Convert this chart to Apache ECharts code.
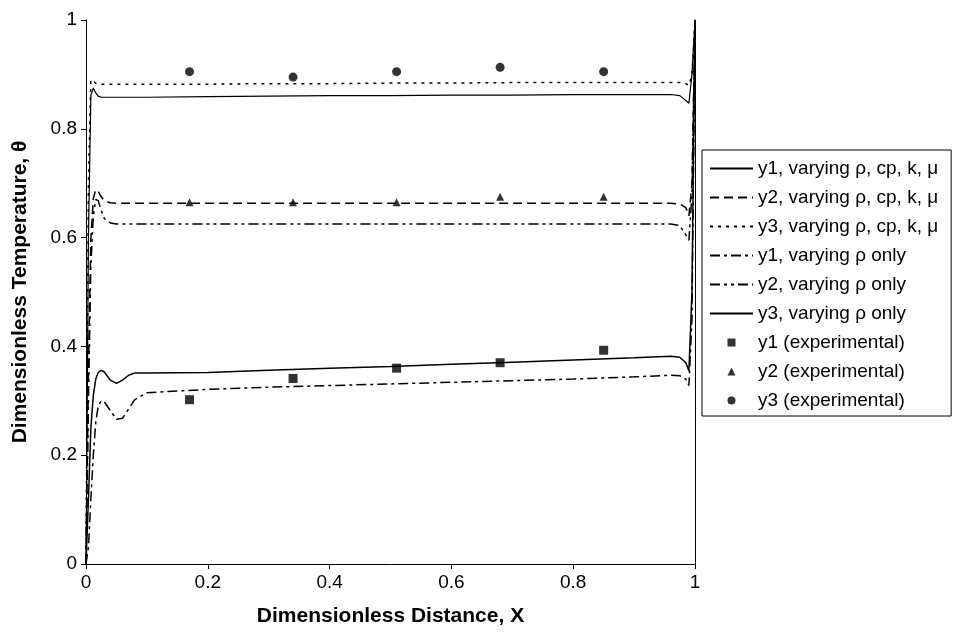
<!DOCTYPE html>
<html>
<head>
<meta charset="utf-8">
<script src="https://cdn.jsdelivr.net/npm/echarts@6/dist/echarts.min.js"></script>
<style>
  html, body { margin: 0; padding: 0; background: #fff; }
  #chart { width: 953px; height: 632px; }
</style>
</head>
<body>
<div id="chart"></div>
<script>
// shared x positions for the model curves
const xGrid = [0, 0.004, 0.008, 0.012, 0.016, 0.02, 0.025, 0.03, 0.04, 0.05, 0.06, 0.07, 0.08,
  0.1, 0.2, 0.3, 0.4, 0.5, 0.6, 0.7, 0.8, 0.9, 0.96, 0.975, 0.985, 0.99, 0.995, 1];

const y1All = [0, 0.12, 0.25, 0.31, 0.34, 0.352, 0.356, 0.353, 0.338, 0.332, 0.338, 0.347, 0.351,
  0.351, 0.352, 0.356, 0.36, 0.363, 0.367, 0.371, 0.375, 0.379, 0.382, 0.38, 0.37, 0.355, 0.5, 1];
const y2All = [0, 0.35, 0.6, 0.672, 0.688, 0.685, 0.675, 0.668, 0.664, 0.663, 0.663, 0.663, 0.663,
  0.663, 0.663, 0.663, 0.663, 0.663, 0.663, 0.663, 0.663, 0.663, 0.663, 0.662, 0.655, 0.64, 0.7, 1];
const y3All = [0, 0.7, 0.89, 0.888, 0.884, 0.882, 0.882, 0.882, 0.882, 0.882, 0.882, 0.882, 0.882,
  0.882, 0.882, 0.883, 0.883, 0.884, 0.884, 0.885, 0.885, 0.885, 0.885, 0.885, 0.883, 0.88, 0.9, 1];
const y1Rho = [0, 0.03, 0.12, 0.2, 0.26, 0.29, 0.3, 0.298, 0.282, 0.266, 0.268, 0.285, 0.302,
  0.315, 0.321, 0.325, 0.328, 0.331, 0.334, 0.337, 0.34, 0.344, 0.347, 0.346, 0.34, 0.328, 0.45, 1];
const y2Rho = [0, 0.3, 0.55, 0.64, 0.67, 0.668, 0.65, 0.635, 0.627, 0.625, 0.625, 0.625, 0.625,
  0.625, 0.625, 0.625, 0.625, 0.625, 0.625, 0.625, 0.625, 0.625, 0.625, 0.622, 0.605, 0.595, 0.68, 1];
const y3Rho = [0, 0.6, 0.862, 0.875, 0.866, 0.86, 0.858, 0.858, 0.858, 0.858, 0.858, 0.858, 0.858,
  0.858, 0.859, 0.86, 0.861, 0.861, 0.862, 0.862, 0.863, 0.863, 0.863, 0.861, 0.852, 0.847, 0.9, 1];

// experimental points
const xExp = [0.17, 0.34, 0.51, 0.68, 0.85];
const y1Exp = [0.302, 0.341, 0.36, 0.37, 0.393];
const y2Exp = [0.665, 0.665, 0.665, 0.675, 0.675];
const y3Exp = [0.905, 0.895, 0.905, 0.913, 0.905];

const xTicks = [0, 0.2, 0.4, 0.6, 0.8, 1];
const yTicks = [0, 0.2, 0.4, 0.6, 0.8, 1];

const FONT = 'Liberation Sans, Arial, sans-serif';

const pairs = (xs, ys) => xs.map((x, i) => [x, ys[i]]);

const lineSeries = (name, ys, type, width) => ({
  name,
  type: 'line',
  data: pairs(xGrid, ys),
  symbol: 'none',
  lineStyle: { color: '#000', width: width || 1.4, type: type },
  itemStyle: { color: '#000' },
  z: 3
});

const pointSeries = (name, ys, symbol, size) => ({
  name,
  type: 'scatter',
  data: pairs(xExp, ys),
  symbol,
  symbolSize: size,
  itemStyle: { color: '#000' },
  z: 4
});

// legend entries: lines get no centre dot, points keep a small square shape
const noDot = { color: 'rgba(0,0,0,0)', borderColor: 'rgba(0,0,0,0)', borderWidth: 0 };
const legendItems = [
  { name: 'y1, varying ρ, cp, k, μ', itemStyle: noDot },
  { name: 'y2, varying ρ, cp, k, μ', itemStyle: noDot },
  { name: 'y3, varying ρ, cp, k, μ', itemStyle: noDot },
  { name: 'y1, varying ρ only', itemStyle: noDot },
  { name: 'y2, varying ρ only', itemStyle: noDot },
  { name: 'y3, varying ρ only', itemStyle: noDot },
  { name: 'y1 (experimental)', icon: 'path://M0,0L10,0L10,10L0,10Z' },
  { name: 'y2 (experimental)', icon: 'path://M5,0L10,10L0,10Z' },
  { name: 'y3 (experimental)', icon: 'circle' }
];

const chart = echarts.init(document.getElementById('chart'));

const option = {
  animation: false,
  backgroundColor: '#fff',
  textStyle: { fontFamily: FONT, color: '#000' },
  grid: { left: 86, right: 258, top: 20, bottom: 67 },
  legend: {
    orient: 'vertical',
    left: 702,
    top: 150,
    padding: [9, 13, 6, 7],
    borderColor: '#000',
    borderWidth: 1,
    itemWidth: 43,
    itemHeight: 8,
    itemGap: 10,
    symbolKeepAspect: true,
    textStyle: { fontFamily: FONT, fontSize: 19, color: '#000' },
    data: legendItems
  },
  xAxis: {
    type: 'value',
    min: xTicks[0],
    max: xTicks[xTicks.length - 1],
    interval: 0.2,
    name: 'Dimensionless Distance, X',
    nameLocation: 'middle',
    nameGap: 42,
    nameTextStyle: { fontFamily: FONT, fontSize: 21, fontWeight: 'bold', color: '#000' },
    axisLine: { show: true, onZero: false, lineStyle: { color: '#000', width: 1 } },
    axisTick: { show: true, inside: false, length: 5, lineStyle: { color: '#000' } },
    axisLabel: { fontFamily: FONT, fontSize: 19, color: '#000', margin: 9 },
    splitLine: { show: false }
  },
  yAxis: [
    {
      type: 'value',
      min: yTicks[0],
      max: yTicks[yTicks.length - 1],
      interval: 0.2,
      name: 'Dimensionless Temperature, θ',
      nameLocation: 'middle',
      nameGap: 55,
      nameTextStyle: { fontFamily: FONT, fontSize: 21, fontWeight: 'bold', color: '#000' },
      axisLine: { show: true, onZero: false, lineStyle: { color: '#000', width: 1 } },
      axisTick: { show: true, inside: false, length: 5, lineStyle: { color: '#000' } },
      axisLabel: { fontFamily: FONT, fontSize: 19, color: '#000', margin: 9 },
      splitLine: { show: false }
    },
    {
      // right-hand frame of the plot area
      type: 'value',
      position: 'right',
      min: 0,
      max: 1,
      axisLine: { show: true, onZero: false, lineStyle: { color: '#000', width: 1 } },
      axisTick: { show: false },
      axisLabel: { show: false },
      splitLine: { show: false }
    }
  ],
  series: [
    lineSeries('y1, varying ρ, cp, k, μ', y1All, 'solid', 1.5),
    lineSeries('y2, varying ρ, cp, k, μ', y2All, [9, 5], 1.5),
    lineSeries('y3, varying ρ, cp, k, μ', y3All, [3, 5], 1.5),
    lineSeries('y1, varying ρ only', y1Rho, [10, 4, 3, 4], 1.5),
    lineSeries('y2, varying ρ only', y2Rho, [10, 4, 3, 4, 3, 4], 1.5),
    lineSeries('y3, varying ρ only', y3Rho, 'solid', 1.2),
    pointSeries('y1 (experimental)', y1Exp, 'rect', 9),
    pointSeries('y2 (experimental)', y2Exp, 'triangle', 8),
    pointSeries('y3 (experimental)', y3Exp, 'circle', 9)
  ]
};

chart.setOption(option);
</script>
</body>
</html>
